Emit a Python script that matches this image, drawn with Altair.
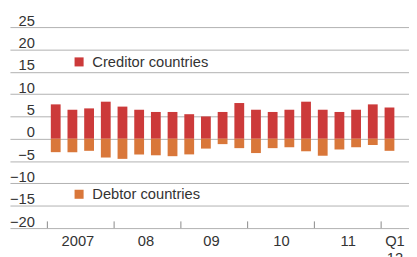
import altair as alt
import pandas as pd

quarters = ["2007Q1", "2007Q2", "2007Q3", "2007Q4",
            "2008Q1", "2008Q2", "2008Q3", "2008Q4",
            "2009Q1", "2009Q2", "2009Q3", "2009Q4",
            "2010Q1", "2010Q2", "2010Q3", "2010Q4",
            "2011Q1", "2011Q2", "2011Q3", "2011Q4",
            "2012Q1"]
creditor = [7.7, 6.5, 6.8, 8.3, 7.2, 6.5, 6.0, 6.0, 5.5, 5.0, 6.0,
            8.0, 6.5, 6.0, 6.5, 8.3, 6.5, 6.0, 6.5, 7.7, 7.0]
debtor = [-3.0, -3.0, -2.7, -4.2, -4.5, -3.5, -3.7, -3.9, -3.5, -2.2, -1.2,
          -2.1, -3.2, -2.1, -1.9, -2.8, -3.8, -2.4, -1.9, -1.4, -2.7]

year_ticks = [2007, 2008, 2009, 2010, 2011, 2012]
x_label_pos = [2007.45, 2008.47, 2009.45, 2010.5, 2011.5, 2012.2]
x_label_text = ["2007", "08", "09", "10", "11", "Q1|12"]
y_ticks = [-20, -15, -10, -5, 0, 5, 10, 15, 20, 25]

RED = "#cc3a3a"
ORANGE = "#d9773a"
FONT = "Liberation Sans"


def qpos(label):
    y, q = label.split("Q")
    return int(y) + (int(q) - 0.5) / 4


df = pd.DataFrame({
    "quarter": quarters,
    "t": [qpos(q) for q in quarters],
    "creditor": creditor,
    "debtor": debtor,
    "cs": ["Creditor countries"] * len(quarters),
    "ds": ["Debtor countries"] * len(quarters),
})
ticks_df = pd.DataFrame({"t": year_ticks, "y0": [-20] * len(year_ticks), "y1": [-18.5] * len(year_ticks)})

expr = "''"
for p, txt in reversed(list(zip(x_label_pos, x_label_text))):
    val = "[" + ",".join(f"'{s}'" for s in txt.split("|")) + "]" if "|" in txt else f"'{txt}'"
    expr = f"abs(datum.value - {p}) < 0.01 ? {val} : ({expr})"

xscale = alt.Scale(domain=[2006.513, 2012.344], nice=False, zero=False)
yscale = alt.Scale(domain=[-20, 25], nice=False)


def xaxis():
    return alt.Axis(values=x_label_pos, labelExpr=expr, grid=False, ticks=False, tickSize=0,
                    domain=False, labelPadding=18,
                    labelBaseline="alphabetic", labelFontSize=15, labelColor="#333333",
                    labelFont=FONT, title=None, labelFlush=False, labelOverlap=False,
                    labelLineHeight=17)


def yaxis():
    return alt.Axis(values=y_ticks, grid=True, gridColor="#b0b0b0", gridWidth=1,
                    domain=False, ticks=False, tickSize=0, labelAlign="right",
                    labelPadding=-25, labelBaseline="alphabetic", labelOffset=-2,
                    labelFontSize=15, labelColor="#333333", labelFont=FONT,
                    title=None, labelFlush=False, labelOverlap=False)


def legend(y):
    return alt.Legend(orient="none", legendX=63, legendY=y, title=None,
                      symbolType="square", symbolSize=85, symbolStrokeWidth=0,
                      labelFontSize=15, labelColor="#333333", labelFont=FONT,
                      labelOffset=6, padding=0)


cred = alt.Chart(df).mark_bar(size=10).encode(
    x=alt.X("t:Q", scale=xscale, axis=xaxis()),
    y=alt.Y("creditor:Q", scale=yscale, axis=yaxis()),
    color=alt.Color("cs:N", scale=alt.Scale(domain=["Creditor countries"], range=[RED]),
                    legend=legend(28)),
)
debt = alt.Chart(df).mark_bar(size=10).encode(
    x=alt.X("t:Q", scale=xscale, axis=xaxis()),
    y=alt.Y("debtor:Q", scale=yscale, axis=yaxis()),
    color=alt.Color("ds:N", scale=alt.Scale(domain=["Debtor countries"], range=[ORANGE]),
                    legend=legend(163)),
)
tick_rules = alt.Chart(ticks_df).mark_rule(color="#888888", strokeWidth=1).encode(
    x=alt.X("t:Q", scale=xscale, axis=xaxis()),
    y=alt.Y("y0:Q", scale=yscale, axis=yaxis()),
    y2="y1:Q",
)

chart = alt.layer(cred, debt, tick_rules).resolve_scale(color="independent").properties(
    width=407, height=205, autosize="none",
    padding={"left": 2, "top": 17, "right": 0, "bottom": 27},
).configure(
    font=FONT, background="white",
    view=alt.ViewConfig(stroke="transparent", strokeWidth=0),
    axis=alt.AxisConfig(domain=False),
)

chart.save("out.html", embed_options={"renderer": "svg", "actions": False})
